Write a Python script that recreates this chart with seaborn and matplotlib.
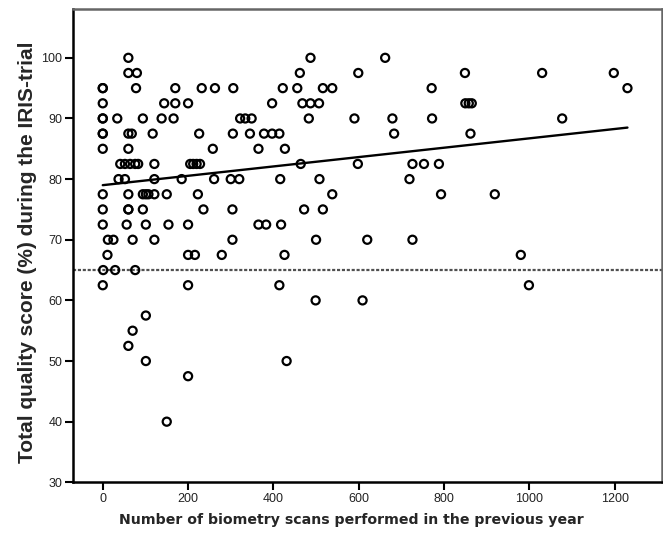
import matplotlib
matplotlib.use("Agg")
import matplotlib.pyplot as plt
import seaborn as sns
import numpy as np
import pandas as pd

# Scans performed (x) and quality score (y), grouped by score level
scans_100 = [60, 487, 662]
scans_975 = [60, 80, 462, 599, 849, 1030, 1198]
scans_95 = [0, 0, 78, 170, 232, 263, 306, 422, 456, 516, 538, 771, 1230]
scans_925 = [0, 144, 170, 200, 397, 468, 487, 507, 850, 858, 865]
scans_90 = [0, 0, 34, 94, 138, 166, 322, 334, 349, 483, 590, 679, 772, 1077]
scans_875 = [0, 0, 60, 68, 117, 226, 305, 345, 378, 397, 414, 683, 862]
scans_85 = [0, 60, 258, 365, 427]
scans_825 = [41, 52, 64, 76, 83, 121, 205, 212, 220, 228, 464, 598, 726, 753, 788]
scans_80 = [37, 52, 121, 185, 261, 300, 320, 416, 508, 719]
scans_775 = [0, 60, 94, 101, 107, 121, 150, 223, 538, 793, 919]
scans_75 = [0, 60, 60, 94, 236, 304, 472, 516]
scans_725 = [0, 56, 101, 154, 200, 365, 383, 418]
scans_70 = [12, 25, 70, 121, 304, 500, 620, 726]
scans_675 = [11, 200, 216, 279, 426, 980]
scans_65 = [1, 29, 76]
scans_625 = [0, 200, 414, 999]
scans_60 = [499, 609]
scans_575 = [101]
scans_55 = [70]
scans_525 = [60]
scans_50 = [101, 431]
scans_475 = [200]
scans_40 = [150]

score_levels = [100, 97.5, 95, 92.5, 90, 87.5, 85, 82.5, 80, 77.5, 75, 72.5,
                70, 67.5, 65, 62.5, 60, 57.5, 55, 52.5, 50, 47.5, 40]
scan_groups = [scans_100, scans_975, scans_95, scans_925, scans_90, scans_875,
               scans_85, scans_825, scans_80, scans_775, scans_75, scans_725,
               scans_70, scans_675, scans_65, scans_625, scans_60, scans_575,
               scans_55, scans_525, scans_50, scans_475, scans_40]

# Fit line as shown in the chart (linear fit, intercept and slope)
fit_intercept = 79.0
fit_slope = 0.00772

threshold = 65

x_ticks = [0, 200, 400, 600, 800, 1000, 1200]
y_ticks = [30, 40, 50, 60, 70, 80, 90, 100]
x_label = "Number of biometry scans performed in the previous year"
y_label = "Total quality score (%) during the IRIS-trial"

rows = []
for lvl, grp in zip(score_levels, scan_groups):
    for s in grp:
        rows.append((s, lvl))
df = pd.DataFrame(rows, columns=["scans", "score"])

fit_x = [df["scans"].min(), df["scans"].max()]
fit_df = pd.DataFrame({"scans": fit_x,
                       "score": [fit_intercept + fit_slope * v for v in fit_x]})

sns.set_style("white")
plt.rcParams['font.family'] = ['Liberation Sans', 'DejaVu Sans']

fig = plt.figure(figsize=(6.63, 5.38), dpi=100)
ax = fig.add_axes([0.1106, 0.1035, 0.8879, 0.8792])

sns.scatterplot(data=df, x="scans", y="score", ax=ax, s=34,
                facecolors="none", edgecolor="black", linewidth=1.6, zorder=3)
sns.lineplot(data=fit_df, x="scans", y="score", ax=ax, color="black",
             lw=1.7, zorder=4)
ax.axhline(threshold, color="#505050", lw=1.6, ls=(0, (1.4, 0.8)), zorder=1)

ax.set_xlim(-69, 1311)
ax.set_ylim(30, 108)
ax.set_xticks(x_ticks)
ax.set_yticks(y_ticks)
ax.tick_params(axis="both", direction="out", length=6, width=1.5,
               color="black", labelsize=9, pad=2, bottom=True, left=True)
for lbl in ax.get_xticklabels() + ax.get_yticklabels():
    lbl.set_color("#222222")

for side in ["left", "bottom"]:
    ax.spines[side].set_color("black")
    ax.spines[side].set_linewidth(1.8)
for side in ["top", "right"]:
    ax.spines[side].set_color("#666666")
    ax.spines[side].set_linewidth(1.8)

ax.set_xlabel(x_label, fontsize=10.2, fontweight="bold", family="DejaVu Sans")
ax.set_ylabel(y_label, fontsize=15, fontweight="bold", family="Liberation Sans")
ax.xaxis.set_label_coords(0.472, -0.065)
ax.yaxis.set_label_coords(-0.062, 0.486)

fig.savefig("out.png", dpi=100)
